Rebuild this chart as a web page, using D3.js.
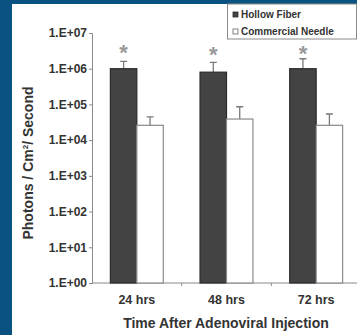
<!DOCTYPE html>
<html><head><meta charset="utf-8">
<script src="https://cdn.jsdelivr.net/npm/d3@7"></script>
<style>html,body{margin:0;padding:0;background:#0a5282;}svg{display:block;}</style>
</head><body>
<svg id="c" width="357" height="335"></svg>
<script>
const categories = ["24 hrs", "48 hrs", "72 hrs"];
const seriesNames = ["Hollow Fiber", "Commercial Needle"];
const hollowFiber = [1.0e6, 8.0e5, 1.0e6];
const hollowFiberErr = [1.6e6, 1.5e6, 1.9e6];
const commercialNeedle = [2.6e4, 3.9e4, 2.6e4];
const commercialNeedleErr = [4.5e4, 8.6e4, 5.4e4];
const significant = [true, true, true];
const yTicks = [1e0, 1e1, 1e2, 1e3, 1e4, 1e5, 1e6, 1e7];
const yTickLabels = ["1.E+00","1.E+01","1.E+02","1.E+03","1.E+04","1.E+05","1.E+06","1.E+07"];

const svg = d3.select("#c");
svg.append("rect").attr("x",12).attr("y",4).attr("width",345).attr("height",331).attr("fill","#fff");

const y = d3.scaleLog().domain([1, 1e7]).range([283, 33]);
const x = d3.scaleBand().domain(categories).range([92, 361]).padding(0);
const x1 = d3.scaleBand().domain(seriesNames).range([x.bandwidth()*0.205, x.bandwidth()*0.795]).padding(0);

const axisColor = "#8a8a8a";
const font = "Arial, Liberation Sans, sans-serif";
// y axis
const yAxis = d3.axisLeft(y).tickValues(yTicks).tickFormat((d,i)=>yTickLabels[i]).tickSize(3).tickPadding(2);
const gy = svg.append("g").attr("transform","translate(92,0)").call(yAxis);
gy.select(".domain").attr("stroke",axisColor);
gy.selectAll(".tick line").attr("stroke",axisColor);
gy.selectAll(".tick text").attr("fill","#333").attr("font-family",font)
  .attr("font-size","12px").attr("font-weight","bold");

// x axis
svg.append("line").attr("x1",92).attr("x2",361).attr("y1",y(1)).attr("y2",y(1)).attr("stroke",axisColor);
categories.slice(1).forEach(c=>{
  svg.append("line").attr("x1",x(c)).attr("x2",x(c)).attr("y1",y(1)).attr("y2",y(1)+3).attr("stroke",axisColor);
});
svg.append("g").selectAll("text").data(categories).join("text")
  .attr("x",d=>x(d)+x.bandwidth()/2).attr("y",303.5)
  .attr("text-anchor","middle").attr("fill","#333")
  .attr("font-family",font).attr("font-size","12.5px").attr("font-weight","bold")
  .text(d=>d);

const rows = categories.map((c,i)=>({c, vals:[
  {s:seriesNames[0], v:hollowFiber[i], e:hollowFiberErr[i]},
  {s:seriesNames[1], v:commercialNeedle[i], e:commercialNeedleErr[i]}]}));

const fills = {"Hollow Fiber":"#434343","Commercial Needle":"#ffffff"};
const strokes = {"Hollow Fiber":"#2a2a2a","Commercial Needle":"#8a8a8a"};

const g = svg.append("g").selectAll("g").data(rows).join("g").attr("transform",d=>`translate(${x(d.c)},0)`);
// error bars
g.selectAll("path.err").data(d=>d.vals).join("path").attr("class","err")
  .attr("d",d=>{const cx=x1(d.s)+x1.bandwidth()/2; return `M${cx},${y(d.v)}V${y(d.e)}M${cx-3.5},${y(d.e)}H${cx+3.5}`;})
  .attr("stroke","#7a7a7a").attr("stroke-width",1.3).attr("fill","none");
g.selectAll("rect").data(d=>d.vals).join("rect")
  .attr("x",d=>x1(d.s)).attr("width",x1.bandwidth())
  .attr("y",d=>y(d.v)).attr("height",d=>y(1)-y(d.v))
  .attr("fill",d=>fills[d.s]).attr("stroke",d=>strokes[d.s]).attr("stroke-width",1.2);

// asterisks
svg.append("g").selectAll("text").data(categories.filter((c,i)=>significant[i])).join("text")
  .attr("x",d=>x(d)+x1(seriesNames[0])+x1.bandwidth()/2).attr("y",(d,i)=>[60,62,61][i])
  .attr("text-anchor","middle").attr("fill","#999")
  .attr("font-family",font).attr("font-size","22px").attr("font-weight","bold")
  .text("*");

// axis titles
svg.append("text").attr("transform","translate(33,163) rotate(-90)").attr("text-anchor","middle")
  .attr("fill","#333").attr("font-family",font).attr("font-size","14px").attr("font-weight","bold")
  .html('Photons / Cm<tspan dy="-5" font-size="8px">2</tspan><tspan dy="5">/ Second</tspan>');
svg.append("text").attr("x",226).attr("y",328).attr("text-anchor","middle")
  .attr("fill","#333").attr("font-family",font).attr("font-size","14px").attr("font-weight","bold")
  .text("Time After Adenoviral Injection");

// legend
const lg = svg.append("g");
lg.append("rect").attr("x",227.5).attr("y",4).attr("width",129).attr("height",35).attr("fill","#fff").attr("stroke","#8a8a8a");
seriesNames.forEach((s,i)=>{
  const ly = 13 + i*17;
  lg.append("rect").attr("x",233).attr("y",ly-1).attr("width",5).attr("height",5)
    .attr("fill",fills[s]).attr("stroke",i===0?"#2a2a2a":"#666").attr("stroke-width",0.8);
  lg.append("text").attr("x",241).attr("y",ly+5).attr("fill","#333")
    .attr("font-family",font).attr("font-size","10px").attr("font-weight","bold").text(s);
});
</script>
</body></html>
